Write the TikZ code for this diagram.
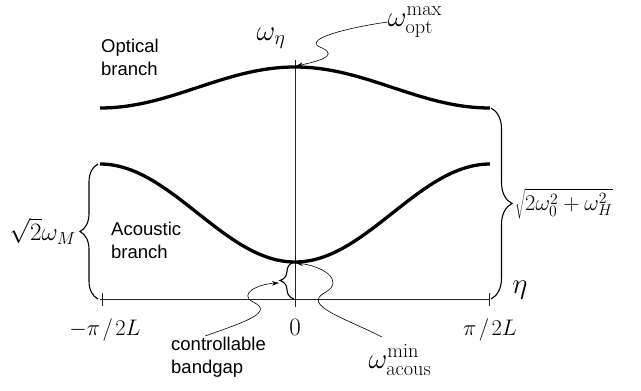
\documentclass[tikz,border=0pt]{standalone}
\usepackage{fix-cm}
\usepackage{fontspec}
\setsansfont{Liberation Sans}
\usetikzlibrary{arrows.meta, decorations.pathreplacing}
\tikzset{
    myarrow/.style={-{Stealth[length=7pt,width=4.5pt]}, line width=0.6pt},
    branch/.style={line width=3.3pt},
    axis/.style={line width=0.7pt, draw=black!85},
    curly/.style={decorate, decoration={brace, amplitude=#1}, line width=1.1pt},
    txt/.style={font=\sffamily\fontsize{18.5}{23}\selectfont, align=left, inner sep=0pt},
    smallsym/.style={font=\fontsize{22.5}{27}\selectfont, inner sep=0pt},
    sym/.style={font=\fontsize{25}{30}\selectfont, inner sep=0pt},
    bigsym/.style={font=\fontsize{29}{34}\selectfont, inner sep=0pt}
}

\begin{document}
\begin{tikzpicture}[x=1pt, y=-1pt]
    \useasboundingbox (0,0) rectangle (641,391);

    % axes
    \coordinate (xl) at (100,299);
    \coordinate (xr) at (490,299);
    \coordinate (ytop) at (295,60);
    \coordinate (ybot) at (295,307);
    \draw [axis] (xl) -- (xr);
    \draw [axis] (ytop) -- (ybot);
    \foreach \t in {102,489}
        \draw [axis] (\t,293) -- (\t,306);

    % branches
    \coordinate (optL) at (100,108);
    \coordinate (optR) at (490,108);
    \coordinate (optMax) at (296,66);
    \coordinate (acL) at (100,164);
    \coordinate (acR) at (490,164);
    \coordinate (acMin) at (296,263);
    \draw [branch] plot [domain=-1:1, samples=80, smooth] ({295+195*\x}, {108-41*(1+cos(180*\x))/2});
    \draw [branch] plot [domain=-1:1, samples=80, smooth] ({295+195*\x}, {164+98*(1+cos(180*\x))/2});

    % braces
    \draw [curly=18] (98,299) -- (98,164) coordinate[midway] (lb);
    \draw [curly=21] (491,108) -- (491,299) coordinate[midway] (rb);
    \draw [curly=14] (294,299) -- (294,262);
    \coordinate (gap) at (279,283);

    % labels
    \node (opt) [txt, anchor=west] at (101,57) {Optical\\branch};
    \node (acous) [txt, anchor=west] at (111,240) {Acoustic\\branch};
    \node (bandgap) [txt, anchor=west] at (171,357) {controllable\\bandgap};
    \node (weta) [bigsym] at (271,38) {$\omega_\eta$};
    \node (wmax) [bigsym] at (415,22) {$\omega_{\mathrm{opt}}^{\max}$};
    \node (wmin) [bigsym] at (400,360) {$\omega_{\mathrm{acous}}^{\min}$};
    \node (wm) [sym, anchor=east] at (76,231) {$\sqrt{2}\omega_M$};
    \node (wh) [smallsym, anchor=west] at (515,204) {$\sqrt{2\omega_0^2+\omega_H^2}$};
    \node (eta) [bigsym] at (520,290) {$\eta$};
    \node (zero) [sym] at (295,327) {$0$};
    \node (kl) [smallsym] at (105,330) {$-\pi\mkern2mu/\mkern2mu2L$};
    \node (kr) [smallsym] at (490,330) {$\pi\mkern2mu/\mkern2mu2L$};

    % pointers
    \draw [myarrow] (wmax.west) .. controls (345,28) and (300,40) .. (322,48)
        .. controls (340,56) and (315,62) .. (optMax);
    \draw [myarrow] (382,337) .. controls (345,318) and (300,305) .. (326,292)
        .. controls (345,280) and (322,266) .. (acMin);
    \draw [myarrow] (205,336) .. controls (245,322) and (275,312) .. (253,302)
        .. controls (238,294) and (258,284) .. (gap);
\end{tikzpicture}
\end{document}
